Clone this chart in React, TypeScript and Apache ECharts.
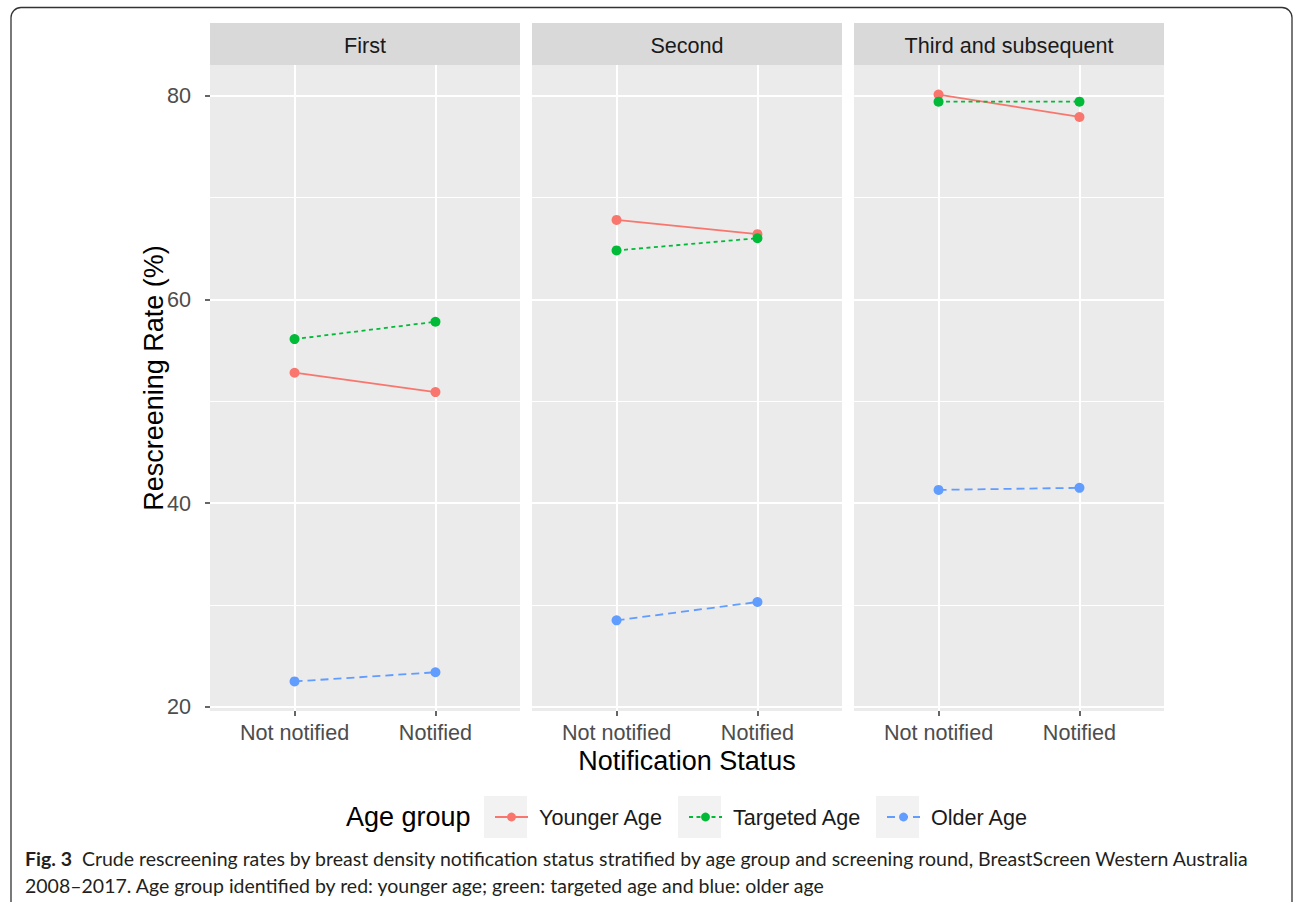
import React, { useEffect, useRef } from 'react';
import * as echarts from 'echarts';

const panels = ['First', 'Second', 'Third and subsequent'];
const statuses = ['Not notified', 'Notified'];
const groups = ['Younger Age', 'Targeted Age', 'Older Age'];
// values per panel: [Not notified, Notified]
const younger = [[52.8, 50.9], [67.8, 66.4], [80.1, 77.9]];
const targeted = [[56.1, 57.8], [64.8, 66.0], [79.4, 79.4]];
const older = [[22.5, 23.4], [28.5, 30.3], [41.3, 41.5]];
const majorTicks = [20, 40, 60, 80];
const minorTicks = [30, 50, 70];

const groupValues = [younger, targeted, older];
const colors = ['#F8766D', '#00BA38', '#619CFF'];
const dashes: any[] = ['solid', [4, 3.5], [8, 5]];
const keyLefts = [484, 678, 876];

const FONT = 'Liberation Sans, Arial, sans-serif';
const SMALL = 21.6;
const BIG = 27;
const PANEL_LEFT = 210;
const PANEL_STEP = 322;
const PANEL_W = 310;
const PANEL_TOP = 65;
const PANEL_H = 646;
const Y_MIN = 19.6;
const Y_MAX = 83.0;

export default function App() {
  const ref = useRef<HTMLDivElement>(null);
  useEffect(() => {
    const chart = echarts.init(ref.current!, null, { renderer: 'svg' });

    const grid = panels.map((_, i) => ({
      left: PANEL_LEFT + i * PANEL_STEP,
      top: PANEL_TOP,
      width: PANEL_W,
      height: PANEL_H,
      show: true,
      backgroundColor: '#EBEBEB',
      borderWidth: 0,
    }));

    const xAxis = panels.map((_, i) => ({
      type: 'value',
      gridIndex: i,
      min: 0.4,
      max: 2.6,
      axisLine: { show: false },
      axisTick: { show: true, customValues: [1, 2], length: 5, lineStyle: { color: '#333333', width: 1.5 } },
      axisLabel: {
        show: true,
        customValues: [1, 2],
        formatter: (v: number) => statuses[Math.round(v) - 1] ?? '',
        color: '#4D4D4D',
        fontSize: SMALL,
        fontFamily: FONT,
        margin: 10,
      },
      splitLine: { show: true, lineStyle: { color: '#FFFFFF', width: 2 } },
    }));

    const yAxis: any[] = [];
    panels.forEach((_, i) => {
      yAxis.push({
        type: 'value',
        gridIndex: i,
        min: Y_MIN,
        max: Y_MAX,
        position: 'left',
        axisLine: { show: false },
        axisTick: { show: i === 0, customValues: majorTicks, length: 5, lineStyle: { color: '#333333', width: 1.5 } },
        axisLabel: {
          show: i === 0,
          customValues: majorTicks,
          color: '#4D4D4D',
          fontSize: SMALL,
          fontFamily: FONT,
          margin: 19,
        },
        splitLine: { show: true, lineStyle: { color: '#FFFFFF', width: 2 } },
      });
      yAxis.push({
        type: 'value',
        gridIndex: i,
        min: Y_MIN,
        max: Y_MAX,
        position: 'left',
        axisLine: { show: false },
        axisTick: { show: false, customValues: minorTicks },
        axisLabel: { show: false, customValues: minorTicks },
        splitLine: { show: true, lineStyle: { color: '#FFFFFF', width: 1 } },
      });
    });

    const series: any[] = [];
    panels.forEach((_, i) => {
      groups.forEach((g, k) => {
        series.push({
          type: 'line',
          name: g,
          xAxisIndex: i,
          yAxisIndex: 2 * i,
          data: statuses.map((_, s) => [s + 1, groupValues[k][i][s]]),
          symbol: 'circle',
          symbolSize: 10,
          showSymbol: true,
          color: colors[k],
          itemStyle: { color: colors[k] },
          lineStyle: { color: colors[k], width: 1.8, type: dashes[k] },
          z: 3,
        });
      });
    });

    const graphic: any[] = [];
    // figure frame
    graphic.push({
      type: 'rect',
      shape: { x: 11, y: 7.5, width: 1281, height: 1000, r: 10 },
      style: { fill: 'none', stroke: '#333333', lineWidth: 1.3 },
      silent: true,
    });
    // strips
    panels.forEach((p, i) => {
      const x = PANEL_LEFT + i * PANEL_STEP;
      graphic.push({
        type: 'rect',
        shape: { x, y: 23, width: PANEL_W, height: 42 },
        style: { fill: '#D9D9D9' },
        silent: true,
      });
      graphic.push({
        type: 'text',
        x: x + PANEL_W / 2,
        y: 45,
        style: { text: p, fill: '#1A1A1A', font: `${SMALL}px ${FONT}`, align: 'center', verticalAlign: 'middle' },
        silent: true,
      });
    });
    // axis titles
    graphic.push({
      type: 'text',
      x: 154,
      y: 378,
      rotation: Math.PI / 2,
      style: { text: 'Rescreening Rate (%)', fill: '#000000', font: `${BIG}px ${FONT}`, align: 'center', verticalAlign: 'middle' },
      silent: true,
    });
    graphic.push({
      type: 'text',
      x: PANEL_LEFT + PANEL_STEP + PANEL_W / 2,
      y: 761,
      style: { text: 'Notification Status', fill: '#000000', font: `${BIG}px ${FONT}`, align: 'center', verticalAlign: 'middle' },
      silent: true,
    });
    // legend title and key backgrounds
    graphic.push({
      type: 'text',
      x: 346,
      y: 817,
      style: { text: 'Age group', fill: '#000000', font: `${BIG}px ${FONT}`, align: 'left', verticalAlign: 'middle' },
      silent: true,
    });
    keyLefts.forEach((kx) => {
      graphic.push({
        type: 'rect',
        z: -1,
        shape: { x: kx, y: 796, width: 43, height: 42 },
        style: { fill: '#F2F2F2' },
        silent: true,
      });
    });
    // caption
    graphic.push({
      type: 'text',
      x: 25,
      y: 858,
      style: {
        text: '{b|Fig. 3}  Crude rescreening rates by breast density notification status stratified by age group and screening round, BreastScreen Western Australia',
        fill: '#231F20',
        fontSize: 19.5,
        fontFamily: 'Lato, sans-serif',
        verticalAlign: 'middle',
        rich: { b: { fontWeight: 'bold', fontSize: 19.5, fontFamily: 'Lato, sans-serif', fill: '#231F20' } },
      },
      silent: true,
    });
    graphic.push({
      type: 'text',
      x: 25,
      y: 885,
      style: {
        text: '2008–2017. Age group identified by red: younger age; green: targeted age and blue: older age',
        fill: '#231F20',
        fontSize: 19.5,
        fontFamily: 'Lato, sans-serif',
        verticalAlign: 'middle',
      },
      silent: true,
    });

    const legend = groups.map((g, k) => ({
      data: [g],
      left: keyLefts[k] + 5,
      top: 801,
      itemWidth: 33,
      itemHeight: 11,
      selectedMode: false,
      textStyle: { fontSize: SMALL, color: '#1A1A1A', fontFamily: FONT, padding: [0, 0, 0, 6] },
    }));

    chart.setOption({
      animation: false,
      backgroundColor: '#FFFFFF',
      grid,
      xAxis,
      yAxis,
      series,
      legend,
      graphic,
    });
    return () => chart.dispose();
  }, []);
  return <div ref={ref} style={{ position: 'fixed', left: 0, top: 0, width: 1295, height: 902 }} />;
}
